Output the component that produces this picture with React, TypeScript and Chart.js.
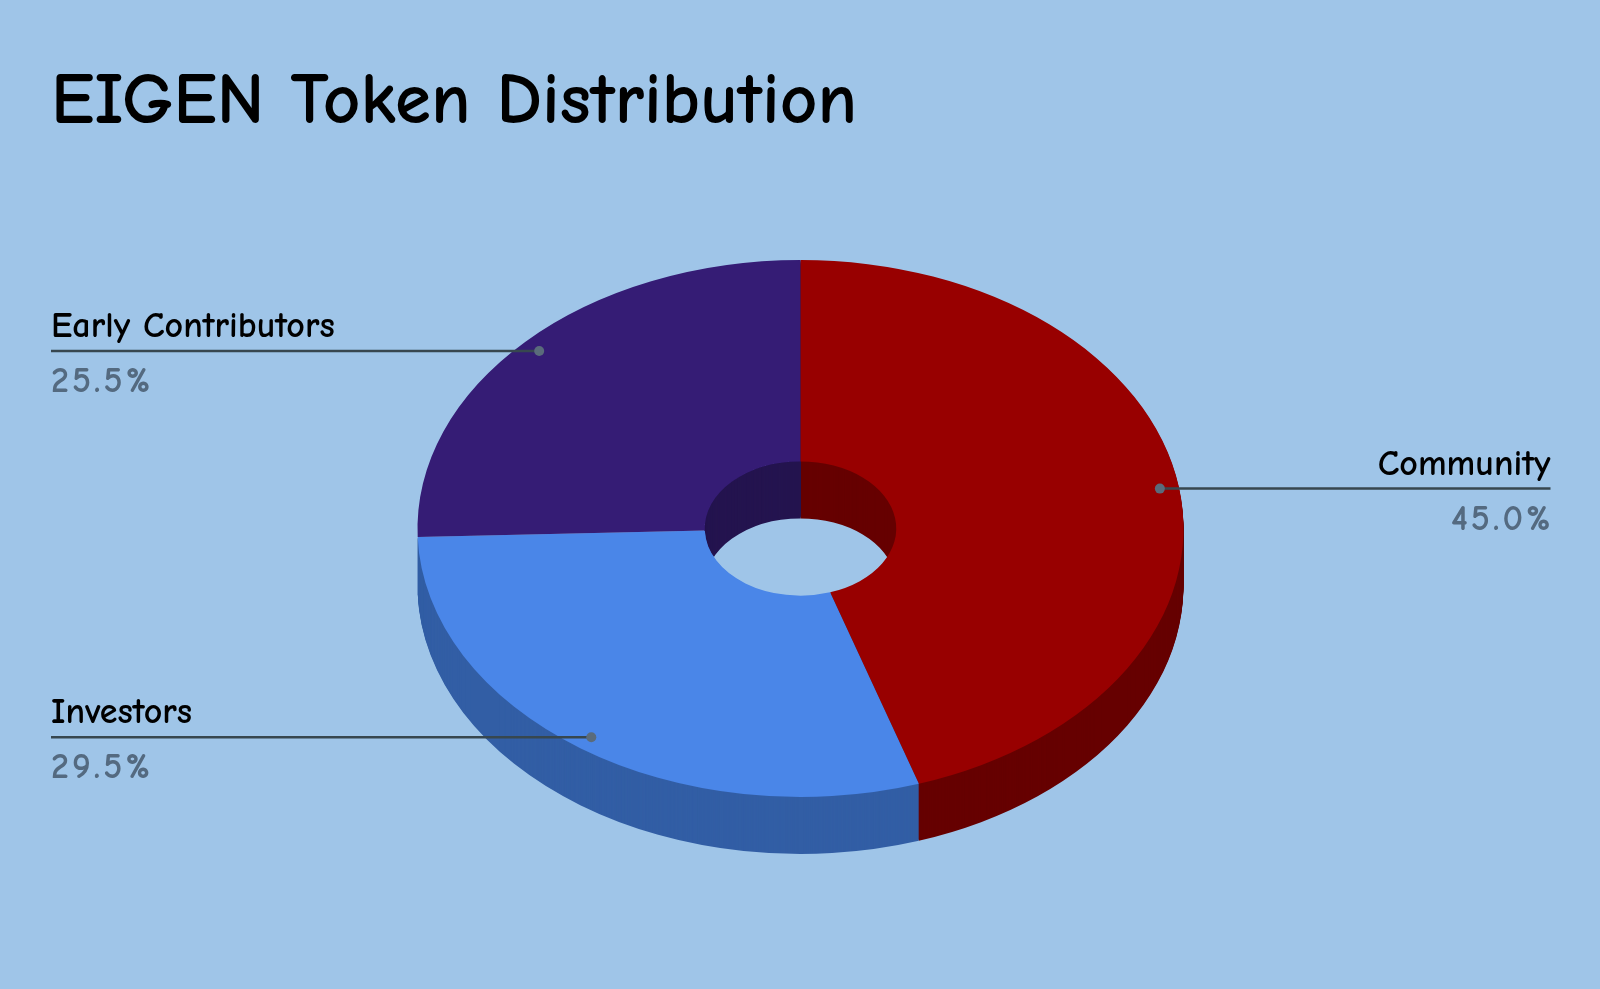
import React, { useEffect, useRef } from "react";
import { Chart, registerables } from "chart.js";

Chart.register(...registerables);

const chartTitle = "EIGEN Token Distribution";
const categories = ["Community", "Investors", "Early Contributors"];
const shares = [45.0, 29.5, 25.5];
const faceColors = ["#980000", "#4a86e8", "#351c75"];
const wallColors = ["#660000", "#325ea5", "#24144f"];
const wallOrder = [0, 2, 1];
const backSlices = [2];

const TILT = 0.701;
const DEPTH = 57;
const FONT = '"Comic Sans MS", "Comic Neue", cursive';

const tiltAround = (ctx: CanvasRenderingContext2D, x: number, y: number, dy: number) => {
  ctx.translate(x, y + dy);
  ctx.scale(1, TILT);
  ctx.translate(-x, -y);
};

const tiltPlugin = {
  id: "tilt3d",
  beforeDatasetDraw(chart: any) {
    const ctx = chart.ctx;
    const arcs = chart.getDatasetMeta(0).data;
    wallOrder.forEach((i) => {
      const arc = arcs[i];
      const saved = arc.options;
      arc.options = { ...saved, backgroundColor: wallColors[i], borderWidth: 0 };
      ctx.save();
      if (backSlices.includes(i)) {
        // a slice on the far side only shows its wall through the hole
        ctx.beginPath();
        ctx.ellipse(arc.x, arc.y, arc.innerRadius, arc.innerRadius * TILT, 0, 0, Math.PI * 2);
        ctx.clip();
      }
      for (let d = DEPTH; d >= 1; d--) {
        ctx.save();
        tiltAround(ctx, arc.x, arc.y, d);
        arc.draw(ctx);
        ctx.restore();
      }
      ctx.restore();
      arc.options = saved;
    });
    ctx.save();
    tiltAround(ctx, arcs[0].x, arcs[0].y, 0);
  },
  afterDatasetDraw(chart: any) {
    chart.ctx.restore();
  },
};

const labelPlugin = {
  id: "leaderLabels",
  afterDraw(chart: any) {
    const ctx = chart.ctx;
    const arcs = chart.getDatasetMeta(0).data;
    ctx.save();
    ctx.textBaseline = "alphabetic";
    ctx.fillStyle = "#000000";
    ctx.textAlign = "left";
    ctx.font = `bold 73px ${FONT}`;
    ctx.fillText(chartTitle, 51, 123);
    arcs.forEach((arc: any, i: number) => {
      const mid = (arc.startAngle + arc.endAngle) / 2;
      const x = arc.x + Math.cos(mid) * arc.outerRadius * 0.95;
      const y = arc.y + Math.sin(mid) * arc.outerRadius * 0.95 * TILT;
      const right = Math.cos(mid) > 0;
      const edge = right ? 1550.5 : 51;
      ctx.strokeStyle = "#37474f";
      ctx.lineWidth = 2.5;
      ctx.beginPath();
      ctx.moveTo(edge, y);
      ctx.lineTo(x, y);
      ctx.stroke();
      ctx.fillStyle = "#5a6b7b";
      ctx.beginPath();
      ctx.arc(x, y, 5, 0, Math.PI * 2);
      ctx.fill();
      ctx.textAlign = right ? "right" : "left";
      ctx.fillStyle = "#000000";
      ctx.font = `bold 36px ${FONT}`;
      ctx.fillText(categories[i], edge, y - 14);
      ctx.fillStyle = "#546a80";
      ctx.font = `bold 36px ${FONT}`;
      (ctx as any).letterSpacing = "3px";
      ctx.fillText(`${shares[i].toFixed(1)}%`, right ? edge + 3 : edge, y + 41);
      (ctx as any).letterSpacing = "0px";
    });
    ctx.restore();
  },
};

export default function App() {
  const ref = useRef<HTMLCanvasElement>(null);
  useEffect(() => {
    document.body.style.margin = "0";
    document.body.style.background = "#9fc5e8";
    const chart = new Chart(ref.current!, {
      type: "doughnut",
      data: {
        labels: categories,
        datasets: [{ data: shares, backgroundColor: faceColors, borderWidth: 0 }],
      },
      options: {
        animation: false,
        responsive: false,
        devicePixelRatio: 1,
        cutout: "25%",
        layout: { padding: { left: 417.5, right: 416.5, top: 145.5, bottom: 77.5 } },
        plugins: { legend: { display: false }, title: { display: false }, tooltip: { enabled: false } },
      },
      plugins: [tiltPlugin, labelPlugin],
    } as any);
    return () => chart.destroy();
  }, []);
  return <canvas ref={ref} width={1600} height={989} style={{ display: "block", background: "#9fc5e8" }} />;
}
